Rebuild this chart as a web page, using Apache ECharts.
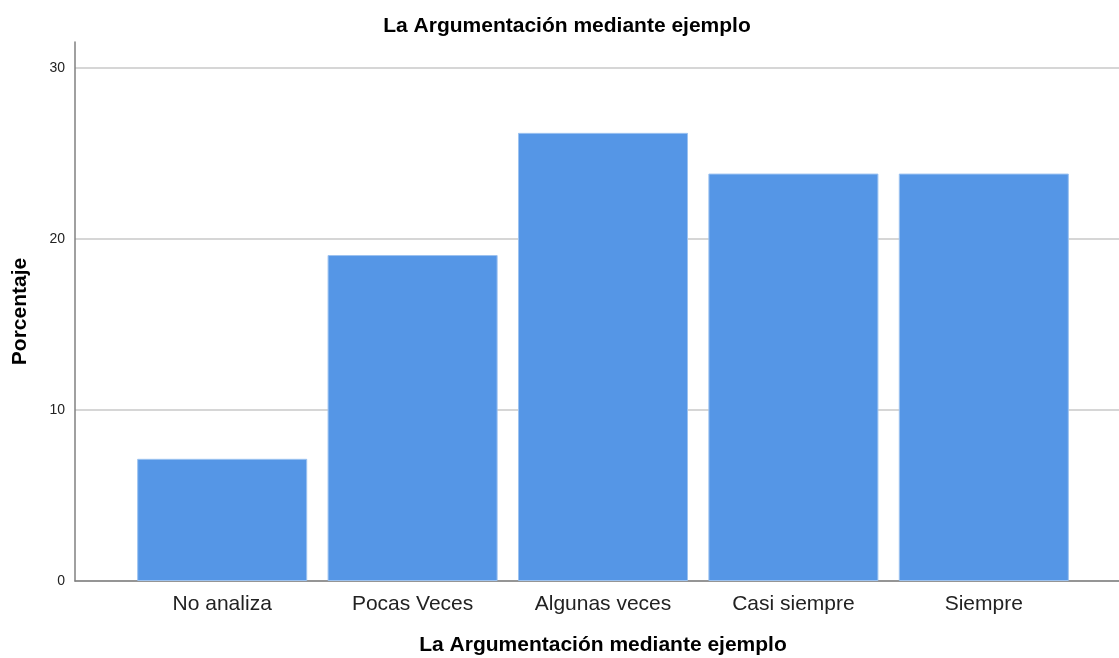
<!DOCTYPE html>
<html>
<head>
<meta charset="utf-8">
<script src="https://cdn.jsdelivr.net/npm/echarts@6/dist/echarts.min.js"></script>
<style>html,body{margin:0;padding:0;background:#fff}#c{width:1119px;height:658px}</style>
</head>
<body>
<div id="c"></div>
<script>
const titleText = 'La Argumentación mediante ejemplo';
const categories = ['No analiza', 'Pocas Veces', 'Algunas veces', 'Casi siempre', 'Siempre'];
const percentages = [7.14, 19.05, 26.19, 23.81, 23.81];
const yAxisName = 'Porcentaje';
const xAxisName = 'La Argumentación mediante ejemplo';

const chart = echarts.init(document.getElementById('c'));
const FONT = '"Liberation Sans", Arial, sans-serif';
const YMAX = 31.5;
const GRID = '#c8c8c8';
chart.setOption({
  animation: false,
  backgroundColor: '#ffffff',
  title: {
    text: titleText, left: 562, top: 11, textAlign: 'center',
    textStyle: { fontFamily: FONT, fontSize: 21, fontWeight: 'bold', color: '#000' }
  },
  grid: [
    { left: 75, right: 0, top: 42, bottom: 77, outerBoundsMode: 'none' },
    { left: 127, right: 40, top: 42, bottom: 77, outerBoundsMode: 'none' }
  ],
  xAxis: [
    { gridIndex: 0, type: 'value', min: 0, max: 1,
      axisLine: { show: true, onZero: false, lineStyle: { color: '#808080', width: 1.5 } },
      axisTick: { show: false }, axisLabel: { show: false }, splitLine: { show: false } },
    { gridIndex: 1, type: 'category', data: categories,
      axisLine: { show: false }, axisTick: { show: false },
      axisLabel: { fontFamily: FONT, fontSize: 21, color: '#222', margin: 13 },
      name: xAxisName, nameLocation: 'middle', nameGap: 54,
      nameTextStyle: { fontFamily: FONT, fontSize: 21, fontWeight: 'bold', color: '#000' } }
  ],
  yAxis: [
    { gridIndex: 0, type: 'value', min: 0, max: YMAX, interval: 10,
      axisLine: { show: true, lineStyle: { color: '#808080', width: 1.5 } },
      axisTick: { show: false },
      axisLabel: { fontFamily: FONT, fontSize: 14, color: '#222', margin: 10,
        formatter: v => (v % 10 === 0 ? String(v) : '') },
      splitLine: { show: true, lineStyle: { color: [GRID, GRID, GRID, GRID, 'rgba(0,0,0,0)'], width: 1.5 } },
      name: yAxisName, nameLocation: 'middle', nameGap: 44,
      nameTextStyle: { fontFamily: FONT, fontSize: 21, fontWeight: 'bold', color: '#000' } },
    { gridIndex: 1, type: 'value', min: 0, max: YMAX, show: false }
  ],
  series: [{
    type: 'bar', xAxisIndex: 1, yAxisIndex: 1,
    data: percentages, barCategoryGap: '10.7%',
    itemStyle: { color: '#5596e6', borderColor: '#9cc2f0', borderWidth: 1 }
  }]
});
</script>
</body>
</html>
